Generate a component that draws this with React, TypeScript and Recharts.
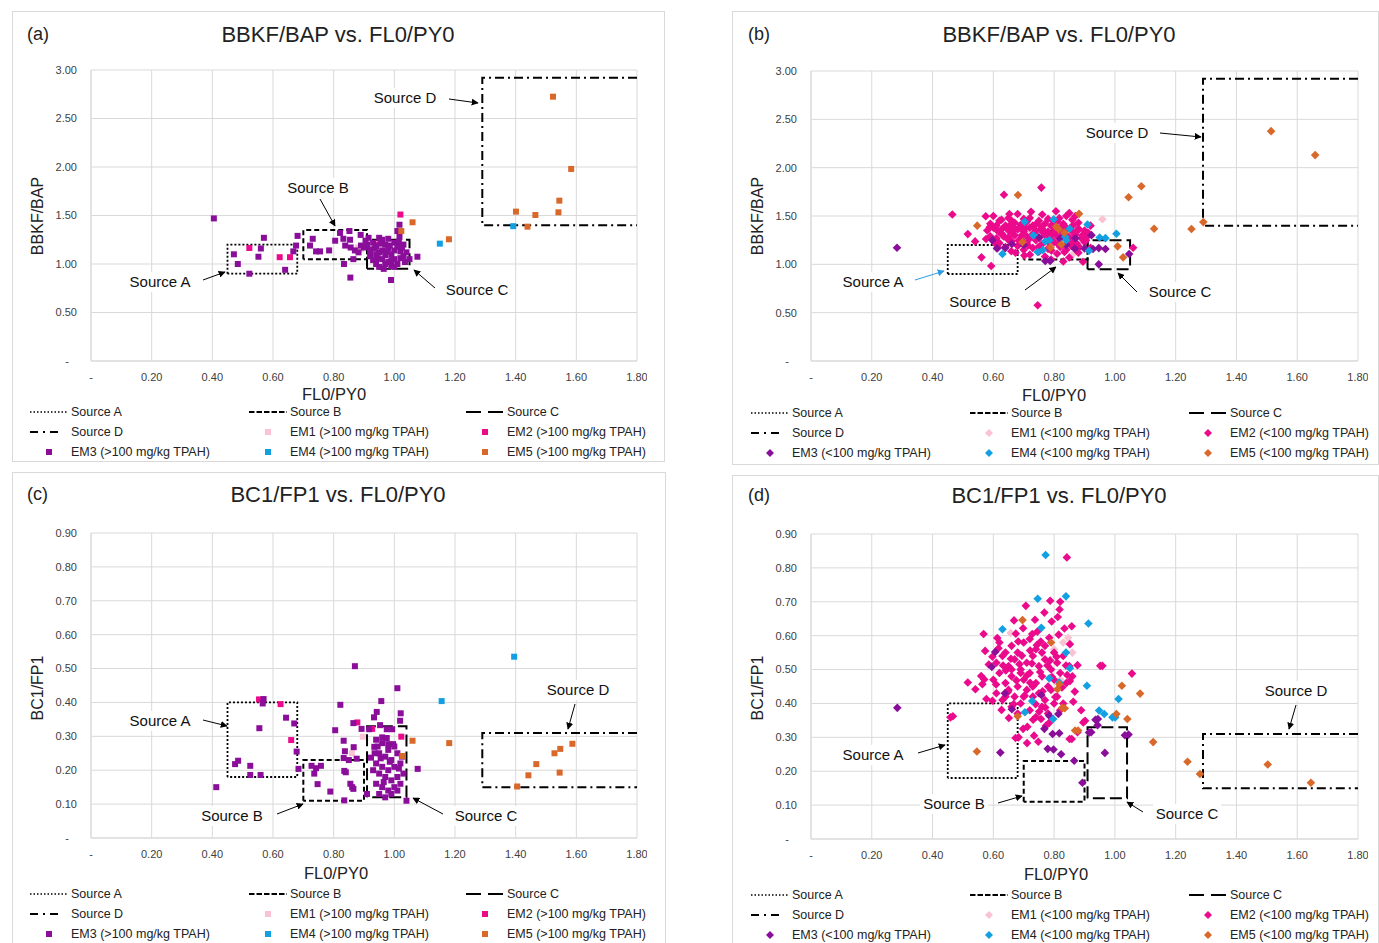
import React from "react";
import { ScatterChart, Scatter, XAxis, YAxis, CartesianGrid } from "recharts";

type Pt = [number, number];

const X_TICKS = [0, 0.2, 0.4, 0.6, 0.8, 1.0, 1.2, 1.4, 1.6, 1.8];
const Y_TICKS_BBKF = [0, 0.5, 1.0, 1.5, 2.0, 2.5, 3.0];
const Y_TICKS_BC1 = [0, 0.1, 0.2, 0.3, 0.4, 0.5, 0.6, 0.7, 0.8, 0.9];

const EM_NAMES = ["EM1", "EM2", "EM3", "EM4", "EM5"];
const EM_COLORS = ["#F9C3D3", "#EB0A8C", "#8A0E9A", "#12A0E2", "#D9692B"];

// source boxes (Excel draws them as line series)
const BOX_A_BBKF: Pt[] = [[0.45, 0.9], [0.45, 1.2], [0.68, 1.2], [0.68, 0.9], [0.45, 0.9]];
const BOX_B_BBKF: Pt[] = [[0.7, 1.05], [0.7, 1.35], [0.91, 1.35], [0.91, 1.05], [0.7, 1.05]];
const BOX_C_BBKF: Pt[] = [[0.91, 0.95], [0.91, 1.25], [1.05, 1.25], [1.05, 0.95], [0.91, 0.95]];
const BOX_D_BBKF: Pt[] = [[1.8, 2.92], [1.29, 2.92], [1.29, 1.4], [1.8, 1.4]];
const BOX_A_BC1: Pt[] = [[0.45, 0.18], [0.45, 0.4], [0.68, 0.4], [0.68, 0.18], [0.45, 0.18]];
const BOX_B_BC1: Pt[] = [[0.7, 0.11], [0.7, 0.23], [0.9, 0.23], [0.9, 0.11], [0.7, 0.11]];
const BOX_C_BC1: Pt[] = [[0.91, 0.12], [0.91, 0.33], [1.04, 0.33], [1.04, 0.12], [0.91, 0.12]];
const BOX_D_BC1: Pt[] = [[1.8, 0.31], [1.29, 0.31], [1.29, 0.15], [1.8, 0.15]];

// (a) BBKF/BAP vs FL0/PY0, >100 mg/kg
const A_EM1: Pt[] = [[0.88, 1.17], [0.89, 1.15]];
const A_EM2: Pt[] = [[0.522, 1.165], [0.622, 1.07], [0.656, 1.07], [1.02, 1.51], [0.94, 1.2]];
const A_EM3: Pt[] = [
  [0.405, 1.47], [0.57, 1.27], [0.56, 1.16], [0.471, 1.1], [0.552, 1.075], [0.484, 1.0], [0.522, 0.9],
  [0.64, 0.94], [0.667, 1.13], [0.676, 1.19], [0.681, 1.29], [0.731, 1.26], [0.722, 1.19], [0.742, 1.13],
  [0.755, 1.13], [0.785, 1.14], [0.805, 1.24], [0.821, 1.32], [0.852, 1.34], [0.889, 1.3], [0.832, 1.26],
  [0.854, 1.25], [0.838, 1.19], [0.856, 1.17], [0.87, 1.14], [0.882, 1.12], [0.865, 1.05], [0.834, 1.0],
  [0.855, 0.86], [0.989, 0.835], [1.076, 1.075], [1.017, 1.405], [1.01, 1.34], [1.017, 1.28],
  [0.91, 1.2], [0.92, 1.15], [0.93, 1.22], [0.94, 1.18], [0.95, 1.12], [0.96, 1.25], [0.97, 1.2],
  [0.98, 1.16], [0.99, 1.1], [1.0, 1.22], [1.01, 1.18], [1.02, 1.13], [1.03, 1.08], [0.92, 1.08],
  [0.93, 1.04], [0.94, 1.0], [0.95, 0.97], [0.96, 1.05], [0.97, 1.09], [0.98, 1.02], [0.99, 0.98],
  [1.0, 1.05], [1.01, 1.0], [1.02, 1.06], [1.04, 1.12], [1.03, 1.2], [0.95, 1.27], [0.98, 1.26],
  [1.0, 1.14], [0.96, 1.14], [0.94, 1.1], [0.92, 1.12], [0.9, 1.17], [0.89, 1.19], [0.97, 1.0],
  [0.99, 1.04], [1.0, 0.97], [0.985, 1.19], [0.955, 1.21], [0.935, 1.16], [1.015, 1.23], [1.025, 1.17],
  [1.035, 1.02], [1.05, 1.05], [0.965, 0.95], [0.945, 1.06], [0.975, 1.13], [0.905, 1.24], [0.915, 1.27],
];
const A_EM4: Pt[] = [[1.15, 1.21], [1.392, 1.39]];
const A_EM5: Pt[] = [
  [1.06, 1.43], [1.023, 1.34], [1.18, 1.255], [1.523, 2.725], [1.583, 1.98], [1.544, 1.653],
  [1.541, 1.533], [1.401, 1.54], [1.465, 1.505], [1.439, 1.385],
];

// (b) BBKF/BAP vs FL0/PY0, <100 mg/kg
const B_EM1: Pt[] = [[0.959, 1.467], [0.82, 1.3], [0.77, 1.2], [0.72, 1.35], [0.86, 1.1]];
const B_EM2: Pt[] = [
  [0.465, 1.515], [0.516, 1.313], [0.54, 1.237], [0.575, 1.498], [0.561, 1.072], [0.593, 0.983],
  [0.635, 1.72], [0.758, 1.794], [0.746, 0.577], [0.673, 1.12], [1.06, 1.172], [0.895, 1.027],
  [0.6, 1.5], [0.68, 1.52], [0.72, 1.48], [0.85, 1.53], [0.84, 1.5], [0.78, 1.47], [0.66, 1.45],
  [0.59, 1.42], [0.62, 1.45], [0.64, 1.4], [0.67, 1.43], [0.69, 1.41], [0.71, 1.44], [0.73, 1.4],
  [0.75, 1.45], [0.77, 1.42], [0.79, 1.4], [0.81, 1.44], [0.83, 1.42], [0.86, 1.46], [0.88, 1.43],
  [0.65, 1.48], [0.7, 1.47], [0.58, 1.35], [0.6, 1.38], [0.62, 1.33], [0.63, 1.37], [0.65, 1.35],
  [0.66, 1.39], [0.68, 1.36], [0.7, 1.34], [0.72, 1.38], [0.74, 1.35], [0.76, 1.37], [0.78, 1.34],
  [0.8, 1.38], [0.82, 1.35], [0.84, 1.38], [0.86, 1.34], [0.88, 1.37], [0.9, 1.35], [0.61, 1.4],
  [0.69, 1.39], [0.59, 1.29], [0.61, 1.27], [0.63, 1.31], [0.65, 1.28], [0.67, 1.3], [0.69, 1.26],
  [0.71, 1.29], [0.73, 1.31], [0.75, 1.27], [0.77, 1.3], [0.79, 1.26], [0.81, 1.29], [0.83, 1.32],
  [0.85, 1.28], [0.87, 1.3], [0.89, 1.27], [0.91, 1.29], [0.66, 1.33], [0.74, 1.25], [0.8, 1.32],
  [0.62, 1.22], [0.64, 1.18], [0.66, 1.24], [0.68, 1.19], [0.71, 1.22], [0.73, 1.17], [0.76, 1.21],
  [0.78, 1.16], [0.8, 1.23], [0.82, 1.18], [0.84, 1.15], [0.86, 1.22], [0.88, 1.19], [0.9, 1.23],
  [0.92, 1.17], [0.7, 1.15], [0.75, 1.13], [0.72, 1.1], [0.77, 1.08], [0.81, 1.11], [0.85, 1.07],
  [0.88, 1.12], [0.79, 1.05], [0.83, 1.03], [0.87, 1.5], [0.92, 1.4],
  [0.612, 1.352], [0.634, 1.288], [0.657, 1.412], [0.683, 1.247], [0.706, 1.376], [0.718, 1.262],
  [0.741, 1.418], [0.763, 1.331], [0.786, 1.287], [0.797, 1.452], [0.812, 1.214], [0.826, 1.396],
  [0.849, 1.243], [0.862, 1.404], [0.874, 1.218], [0.893, 1.301], [0.604, 1.223], [0.627, 1.461],
  [0.648, 1.257], [0.671, 1.372], [0.693, 1.298], [0.714, 1.196], [0.736, 1.327], [0.758, 1.388],
  [0.781, 1.236], [0.803, 1.341], [0.817, 1.478], [0.838, 1.311], [0.857, 1.189], [0.879, 1.352],
  [0.615, 1.173], [0.659, 1.136], [0.702, 1.092], [0.747, 1.176], [0.791, 1.142], [0.834, 1.128],
  [0.878, 1.162], [0.576, 1.262], [0.588, 1.384], [0.905, 1.248], [0.912, 1.326], [0.653, 1.521],
  [0.761, 1.516], [0.806, 1.549], [0.724, 1.543],
];
const B_EM3: Pt[] = [
  [0.283, 1.172], [0.597, 1.25], [0.612, 1.165], [0.639, 1.168], [0.661, 1.21], [0.923, 1.302],
  [0.947, 1.168], [0.969, 1.158], [0.928, 1.158], [0.947, 1.0], [1.047, 1.107], [0.771, 1.034],
  [0.787, 1.034], [0.868, 1.162], [0.9, 1.165], [0.82, 1.268], [0.7, 1.2], [0.75, 1.28], [0.84, 1.2],
  [0.87, 1.27],
];
const B_EM4: Pt[] = [
  [0.63, 1.107], [0.703, 1.44], [0.799, 1.467], [0.91, 1.412], [0.95, 1.278], [0.969, 1.271],
  [1.005, 1.316], [0.915, 1.141], [0.746, 1.127], [0.763, 1.148], [0.771, 1.237], [0.785, 1.25],
  [0.84, 1.25], [0.851, 1.368], [0.837, 1.285], [0.732, 1.3],
];
const B_EM5: Pt[] = [
  [0.547, 1.4], [0.681, 1.718], [0.882, 1.522], [1.009, 1.186], [1.027, 1.072], [1.045, 1.694],
  [1.087, 1.808], [1.129, 1.368], [0.696, 1.23], [0.788, 1.175], [0.824, 1.206], [0.834, 1.326],
  [0.807, 1.388], [0.815, 1.364], [1.252, 1.365], [1.291, 1.437], [1.514, 2.378], [1.659, 2.13],
];

// (c) BC1/FP1 vs FL0/PY0, >100 mg/kg
const C_EM1: Pt[] = [[0.896, 0.299], [0.86, 0.25]];
const C_EM2: Pt[] = [[0.554, 0.409], [0.625, 0.395], [0.66, 0.289], [0.878, 0.341], [0.927, 0.322], [1.023, 0.299]];
const C_EM3: Pt[] = [
  [0.87, 0.507], [1.01, 0.442], [0.957, 0.404], [0.822, 0.393], [0.942, 0.372], [0.933, 0.356],
  [1.021, 0.368], [1.019, 0.346], [0.865, 0.339], [0.953, 0.333], [0.892, 0.322], [0.917, 0.321],
  [0.975, 0.321], [0.993, 0.321], [0.805, 0.318], [0.96, 0.297], [0.833, 0.287], [0.934, 0.269],
  [0.866, 0.268], [0.98, 0.277], [0.996, 0.277], [0.837, 0.256], [0.833, 0.236], [0.85, 0.23],
  [0.876, 0.234], [0.923, 0.237], [1.077, 0.204], [1.04, 0.11], [0.835, 0.198], [0.84, 0.194],
  [0.855, 0.16], [0.865, 0.145], [0.861, 0.15], [0.835, 0.111], [0.91, 0.13], [0.789, 0.137],
  [0.747, 0.159], [0.727, 0.213], [0.742, 0.206], [0.758, 0.213], [0.736, 0.19], [0.569, 0.41],
  [0.566, 0.397], [0.643, 0.355], [0.67, 0.338], [0.555, 0.324], [0.678, 0.255], [0.485, 0.228],
  [0.475, 0.218], [0.525, 0.213], [0.684, 0.204], [0.525, 0.186], [0.559, 0.186], [0.413, 0.15],
  [0.94, 0.29], [0.96, 0.28], [0.98, 0.26], [1.0, 0.27], [0.95, 0.25], [0.97, 0.24], [0.99, 0.23],
  [1.01, 0.25], [0.94, 0.22], [0.96, 0.21], [0.98, 0.2], [1.0, 0.21], [1.02, 0.22], [0.95, 0.19],
  [0.97, 0.18], [0.99, 0.17], [1.01, 0.18], [1.03, 0.19], [0.94, 0.16], [0.96, 0.15], [0.98, 0.14],
  [1.0, 0.15], [1.02, 0.16], [0.95, 0.13], [0.97, 0.12], [0.99, 0.13], [1.01, 0.14], [0.93, 0.2],
  [0.955, 0.235], [0.985, 0.225], [1.015, 0.205], [0.965, 0.165], [0.945, 0.27], [0.975, 0.295],
  [1.025, 0.24], [0.935, 0.25],
];
const C_EM4: Pt[] = [[1.156, 0.404], [1.395, 0.535]];
const C_EM5: Pt[] = [
  [1.026, 0.242], [1.06, 0.287], [1.181, 0.28], [1.587, 0.278], [1.547, 0.263], [1.528, 0.25],
  [1.468, 0.218], [1.442, 0.185], [1.545, 0.193], [1.405, 0.152],
];

// (d) BC1/FP1 vs FL0/PY0, <100 mg/kg
const D_EM1: Pt[] = [[0.657, 0.608], [0.846, 0.594], [0.83, 0.58], [0.86, 0.55], [0.82, 0.47], [0.8, 0.56]];
const D_EM2: Pt[] = [
  [0.842, 0.831], [0.82, 0.7], [0.818, 0.677], [0.834, 0.621], [0.858, 0.628], [0.568, 0.605],
  [0.674, 0.606], [0.728, 0.605], [0.784, 0.594], [0.516, 0.462], [0.541, 0.442], [0.564, 0.457],
  [0.57, 0.471], [0.56, 0.481], [0.577, 0.413], [0.597, 0.408], [0.467, 0.362], [0.698, 0.325],
  [0.683, 0.3], [0.751, 0.376], [0.757, 0.354], [0.773, 0.334], [0.858, 0.295], [0.877, 0.315],
  [0.896, 0.344], [0.902, 0.349], [0.877, 0.513], [0.959, 0.511], [1.056, 0.488], [0.843, 0.484],
  [0.852, 0.466], [0.459, 0.359], [0.673, 0.298], [0.851, 0.295], [0.952, 0.511],
  [0.62, 0.58], [0.66, 0.57], [0.7, 0.58], [0.74, 0.56], [0.77, 0.57], [0.8, 0.55], [0.64, 0.55],
  [0.72, 0.59], [0.68, 0.55], [0.61, 0.52], [0.63, 0.54], [0.65, 0.51], [0.67, 0.53], [0.69, 0.5],
  [0.71, 0.52], [0.73, 0.54], [0.75, 0.51], [0.77, 0.53], [0.79, 0.5], [0.81, 0.52], [0.83, 0.54],
  [0.85, 0.51], [0.66, 0.5], [0.76, 0.55], [0.6, 0.47], [0.62, 0.49], [0.64, 0.46], [0.66, 0.48],
  [0.68, 0.45], [0.7, 0.47], [0.72, 0.49], [0.74, 0.46], [0.76, 0.48], [0.78, 0.45], [0.8, 0.47],
  [0.82, 0.49], [0.84, 0.46], [0.86, 0.48], [0.69, 0.49], [0.73, 0.45], [0.61, 0.43], [0.63, 0.41],
  [0.65, 0.44], [0.67, 0.42], [0.69, 0.4], [0.71, 0.44], [0.73, 0.42], [0.75, 0.43], [0.77, 0.41],
  [0.79, 0.44], [0.81, 0.42], [0.83, 0.4], [0.7, 0.42], [0.64, 0.42], [0.66, 0.39], [0.72, 0.38],
  [0.74, 0.36], [0.76, 0.39], [0.78, 0.37], [0.8, 0.4], [0.82, 0.38], [0.68, 0.37],
  [0.617, 0.563], [0.641, 0.497], [0.658, 0.532], [0.676, 0.468], [0.694, 0.541], [0.711, 0.483],
  [0.727, 0.518], [0.743, 0.572], [0.762, 0.436], [0.778, 0.512], [0.793, 0.478], [0.808, 0.538],
  [0.826, 0.447], [0.839, 0.512], [0.648, 0.434], [0.667, 0.398], [0.686, 0.516], [0.703, 0.423],
  [0.721, 0.461], [0.739, 0.398], [0.754, 0.493], [0.771, 0.388], [0.787, 0.527], [0.804, 0.419],
  [0.632, 0.512], [0.609, 0.456], [0.597, 0.538], [0.721, 0.556], [0.756, 0.583], [0.682, 0.583],
  [0.613, 0.593], [0.745, 0.612], [0.698, 0.622], [0.815, 0.603], [0.792, 0.642], [0.737, 0.647],
  [0.768, 0.668], [0.707, 0.688], [0.787, 0.703], [0.812, 0.655], [0.668, 0.645], [0.585, 0.515],
  [0.573, 0.555], [0.852, 0.575], [0.868, 0.435], [0.863, 0.405], [0.889, 0.38], [0.651, 0.357],
  [0.627, 0.381], [0.712, 0.331], [0.731, 0.352], [0.783, 0.342], [0.711, 0.283], [0.748, 0.287],
  [0.734, 0.305],
];
const D_EM3: Pt[] = [
  [0.284, 0.387], [0.623, 0.255], [0.606, 0.552], [0.595, 0.508], [0.638, 0.43], [0.661, 0.383],
  [0.758, 0.425], [0.768, 0.325], [0.795, 0.31], [0.817, 0.312], [0.779, 0.266], [0.798, 0.264],
  [0.823, 0.25], [0.866, 0.231], [0.967, 0.254], [0.784, 0.364], [0.814, 0.369], [0.922, 0.315],
  [0.944, 0.354], [0.943, 0.336], [1.045, 0.308], [1.033, 0.306], [0.915, 0.314], [0.936, 0.352],
  [0.893, 0.166],
];
const D_EM4: Pt[] = [
  [0.772, 0.838], [0.746, 0.709], [0.839, 0.716], [0.63, 0.619], [0.758, 0.623], [0.913, 0.636],
  [0.704, 0.374], [0.728, 0.407], [0.797, 0.354], [0.948, 0.379], [0.965, 0.369], [0.908, 0.452],
  [0.852, 0.504], [0.839, 0.55], [1.012, 0.413], [1.001, 0.359], [0.784, 0.474], [0.817, 0.462],
  [0.992, 0.359],
];
const D_EM5: Pt[] = [
  [0.696, 0.646], [0.546, 0.258], [0.68, 0.362], [0.835, 0.386], [0.879, 0.32], [1.023, 0.452],
  [1.083, 0.429], [1.005, 0.369], [1.041, 0.354], [1.126, 0.286], [0.817, 0.457], [0.811, 0.442],
  [1.239, 0.228], [1.28, 0.192], [1.503, 0.22], [1.645, 0.166], [0.869, 0.32], [0.827, 0.387],
  [0.79, 0.58],
];

const FONT = "'Liberation Sans', Arial, sans-serif";
const GRID = "#D9D9D9";

const BOX_STYLES = [
  { dash: "2 2", width: 1.8 },
  { dash: "5 3", width: 2 },
  { dash: "12 5", width: 2 },
  { dash: "9 4 2 4", width: 2 },
];

const toObj = (pts: Pt[]) => pts.map(([x, y]) => ({ x, y }));
const fmt = (v: number) => (v === 0 ? "-" : v.toFixed(2));

function YTick(props: any) {
  const { x, y, payload } = props;
  const v = payload.value as number;
  return (
    <text x={v === 0 ? x - 8 : x} y={y} dy="0.35em" textAnchor="end" fontSize={11} fill="#404040" fontFamily={FONT}>
      {fmt(v)}
    </text>
  );
}

function marker(kind: string, color: string) {
  // eslint-disable-next-line @typescript-eslint/no-explicit-any
  return (p: any) => {
    if (p.cx == null || p.cy == null) return <g />;
    if (kind === "square") {
      return <rect x={p.cx - 3} y={p.cy - 3} width={6} height={6} fill={color} />;
    }
    const r = 4.3;
    return (
      <polygon
        points={`${p.cx},${p.cy - r} ${p.cx + r},${p.cy} ${p.cx},${p.cy + r} ${p.cx - r},${p.cy}`}
        fill={color}
      />
    );
  };
}

interface Note {
  text: string;
  cx: number;
  cy: number;
  from: Pt;
  to: Pt;
  color?: string;
}

interface PanelCfg {
  tag: string;
  title: string;
  yLabel: string;
  tpah: string;
  shape: string;
  frame: { left: number; top: number; width: number; height: number };
  chart: { left: number; top: number; width: number; height: number };
  yTicks: number[];
  yMax: number;
  series: Pt[][];
  boxes: Pt[][];
  tagPos: Pt;
  titleX: number;
  titleY: number;
  yLabelPos: Pt;
  xLabelPos: Pt;
  legendCols: number[];
  legendRows: number[];
  notes: Note[];
}

const PANELS: PanelCfg[] = [
  {
    tag: "(a)", title: "BBKF/BAP vs. FL0/PY0", yLabel: "BBKF/BAP", tpah: ">100", shape: "square",
    frame: { left: 12, top: 11, width: 653, height: 451 },
    chart: { left: 20, top: 60, width: 627, height: 336 },
    yTicks: Y_TICKS_BBKF, yMax: 3,
    series: [A_EM1, A_EM2, A_EM3, A_EM4, A_EM5],
    boxes: [BOX_A_BBKF, BOX_B_BBKF, BOX_C_BBKF, BOX_D_BBKF],
    tagPos: [27, 34], titleX: 338, titleY: 35, yLabelPos: [38, 216], xLabelPos: [334, 394],
    legendCols: [30, 249, 466], legendRows: [412, 432, 452],
    notes: [
      { text: "Source A", cx: 160, cy: 282, from: [203, 280], to: [225, 272] },
      { text: "Source B", cx: 318, cy: 188, from: [320, 199], to: [335, 226] },
      { text: "Source C", cx: 477, cy: 290, from: [435, 288], to: [414, 270] },
      { text: "Source D", cx: 405, cy: 98, from: [449, 99], to: [478, 103] },
    ],
  },
  {
    tag: "(b)", title: "BBKF/BAP vs. FL0/PY0", yLabel: "BBKF/BAP", tpah: "<100", shape: "diamond",
    frame: { left: 732, top: 11, width: 647, height: 454 },
    chart: { left: 740, top: 61, width: 628, height: 335 },
    yTicks: Y_TICKS_BBKF, yMax: 3,
    series: [B_EM1, B_EM2, B_EM3, B_EM4, B_EM5],
    boxes: [BOX_A_BBKF, BOX_B_BBKF, BOX_C_BBKF, BOX_D_BBKF],
    tagPos: [748, 34], titleX: 1059, titleY: 35, yLabelPos: [758, 216], xLabelPos: [1054, 395],
    legendCols: [751, 970, 1189], legendRows: [413, 433, 453],
    notes: [
      { text: "Source A", cx: 873, cy: 282, from: [915, 280], to: [944, 271], color: "#2E9BE0" },
      { text: "Source B", cx: 980, cy: 302, from: [1025, 290], to: [1056, 267] },
      { text: "Source C", cx: 1180, cy: 292, from: [1137, 292], to: [1118, 273] },
      { text: "Source D", cx: 1117, cy: 133, from: [1160, 133], to: [1201, 137] },
    ],
  },
  {
    tag: "(c)", title: "BC1/FP1 vs. FL0/PY0", yLabel: "BC1/FP1", tpah: ">100", shape: "square",
    frame: { left: 12, top: 472, width: 654, height: 480 },
    chart: { left: 20, top: 523, width: 627, height: 350 },
    yTicks: Y_TICKS_BC1, yMax: 0.9,
    series: [C_EM1, C_EM2, C_EM3, C_EM4, C_EM5],
    boxes: [BOX_A_BC1, BOX_B_BC1, BOX_C_BC1, BOX_D_BC1],
    tagPos: [27, 494], titleX: 338, titleY: 495, yLabelPos: [38, 688], xLabelPos: [336, 873],
    legendCols: [30, 249, 466], legendRows: [894, 914, 934],
    notes: [
      { text: "Source A", cx: 160, cy: 721, from: [203, 720], to: [227, 726] },
      { text: "Source B", cx: 232, cy: 816, from: [277, 814], to: [303, 804] },
      { text: "Source C", cx: 486, cy: 816, from: [443, 814], to: [413, 798] },
      { text: "Source D", cx: 578, cy: 690, from: [575, 704], to: [568, 729] },
    ],
  },
  {
    tag: "(d)", title: "BC1/FP1 vs. FL0/PY0", yLabel: "BC1/FP1", tpah: "<100", shape: "diamond",
    frame: { left: 732, top: 475, width: 647, height: 480 },
    chart: { left: 740, top: 524, width: 628, height: 350 },
    yTicks: Y_TICKS_BC1, yMax: 0.9,
    series: [D_EM1, D_EM2, D_EM3, D_EM4, D_EM5],
    boxes: [BOX_A_BC1, BOX_B_BC1, BOX_C_BC1, BOX_D_BC1],
    tagPos: [748, 495], titleX: 1059, titleY: 496, yLabelPos: [758, 688], xLabelPos: [1056, 874],
    legendCols: [751, 970, 1189], legendRows: [895, 915, 935],
    notes: [
      { text: "Source A", cx: 873, cy: 755, from: [918, 753], to: [945, 745] },
      { text: "Source B", cx: 954, cy: 804, from: [998, 803], to: [1022, 796] },
      { text: "Source C", cx: 1187, cy: 814, from: [1143, 812], to: [1127, 802] },
      { text: "Source D", cx: 1296, cy: 691, from: [1296, 705], to: [1289, 729] },
    ],
  },
];

const abs = (left: number, top: number): React.CSSProperties => ({ position: "absolute", left, top });

function LegendSample({ kind, color, shape }: { kind: string; color?: string; shape: string }) {
  if (kind === "box") {
    const idx = Number(color);
    const s = BOX_STYLES[idx];
    const widths = [37, 38, 37, 33];
    const dash = ["1.5 2", "5.5 2", "15 7", "8 5 2 5"][idx];
    return (
      <svg width={40} height={8} style={{ display: "block" }}>
        <line x1={0} y1={4} x2={widths[idx]} y2={4} stroke="#000" strokeWidth={idx === 0 ? 1.5 : s.width} strokeDasharray={dash} />
      </svg>
    );
  }
  return (
    <svg width={40} height={10} style={{ display: "block" }}>
      {shape === "square" ? (
        <rect x={16} y={2} width={6} height={6} fill={color} />
      ) : (
        <polygon points="19,1 23,5 19,9 15,5" fill={color} />
      )}
    </svg>
  );
}

function Panel({ cfg }: { cfg: PanelCfg }) {
  const { chart } = cfg;
  const legendItems: { label: string; kind: string; color: string }[] = [
    { label: "Source A", kind: "box", color: "0" },
    { label: "Source B", kind: "box", color: "1" },
    { label: "Source C", kind: "box", color: "2" },
    { label: "Source D", kind: "box", color: "3" },
    ...EM_NAMES.map((n, i) => ({ label: `${n} (${cfg.tpah} mg/kg TPAH)`, kind: "em", color: EM_COLORS[i] })),
  ];
  return (
    <>
      <div
        style={{
          ...abs(cfg.frame.left, cfg.frame.top),
          width: cfg.frame.width,
          height: cfg.frame.height,
          border: `1px solid ${GRID}`,
          boxSizing: "border-box",
          background: "#fff",
        }}
      />
      <div style={{ ...abs(cfg.tagPos[0], cfg.tagPos[1] - 11), fontSize: 18, lineHeight: "22px", color: "#222" }}>{cfg.tag}</div>
      <div
        style={{
          ...abs(cfg.titleX - 200, cfg.titleY - 13),
          width: 400,
          textAlign: "center",
          fontSize: 22,
          lineHeight: "26px",
          color: "#222",
        }}
      >
        {cfg.title}
      </div>
      <div
        style={{
          ...abs(cfg.yLabelPos[0] - 60, cfg.yLabelPos[1] - 10),
          width: 120,
          textAlign: "center",
          fontSize: 16,
          lineHeight: "20px",
          color: "#222",
          transform: "rotate(-90deg)",
        }}
      >
        {cfg.yLabel}
      </div>
      <div
        style={{
          ...abs(cfg.xLabelPos[0] - 60, cfg.xLabelPos[1] - 10),
          width: 120,
          textAlign: "center",
          fontSize: 16.5,
          lineHeight: "20px",
          color: "#222",
        }}
      >
        FL0/PY0
      </div>
      <div style={abs(chart.left, chart.top)}>
        <ScatterChart width={chart.width} height={chart.height} margin={{ top: 10, right: 10, left: 21, bottom: 5 }}>
          <CartesianGrid stroke={GRID} strokeWidth={1} />
          <XAxis
            type="number"
            dataKey="x"
            domain={[0, 1.8]}
            ticks={X_TICKS}
            tickFormatter={fmt}
            height={30}
            axisLine={{ stroke: GRID }}
            tickLine={false}
            tickMargin={6}
            tick={{ fontSize: 11, fill: "#404040", fontFamily: FONT }}
            allowDataOverflow
          />
          <YAxis
            type="number"
            dataKey="y"
            domain={[0, cfg.yMax]}
            ticks={cfg.yTicks}
            width={50}
            axisLine={{ stroke: GRID }}
            tickLine={false}
            tickMargin={8}
            tick={<YTick />}
            allowDataOverflow
          />
          {cfg.boxes.map((b, i) => (
            <Scatter
              key={`box${i}`}
              name={`Source ${"ABCD"[i]}`}
              data={toObj(b)}
              line={{ stroke: "#000", strokeWidth: BOX_STYLES[i].width, strokeDasharray: BOX_STYLES[i].dash, fill: "none" }}
              lineType="joint"
              shape={() => <g />}
              isAnimationActive={false}
            />
          ))}
          {cfg.series.map((s, i) => (
            <Scatter
              key={EM_NAMES[i]}
              name={EM_NAMES[i]}
              data={toObj(s)}
              fill={EM_COLORS[i]}
              shape={marker(cfg.shape, EM_COLORS[i])}
              isAnimationActive={false}
            />
          ))}
        </ScatterChart>
      </div>
      {legendItems.map((it, i) => {
        const col = i % 3;
        const row = Math.floor(i / 3);
        const x = cfg.legendCols[col];
        const y = cfg.legendRows[row];
        return (
          <div key={it.label} style={{ ...abs(x, y - 8), display: "flex", alignItems: "center", height: 16 }}>
            <LegendSample kind={it.kind} color={it.color} shape={cfg.shape} />
            <span style={{ fontSize: 12.5, color: "#222", marginLeft: 1, whiteSpace: "nowrap" }}>{it.label}</span>
          </div>
        );
      })}
    </>
  );
}

function Notes() {
  const all = PANELS.flatMap((p) => p.notes);
  return (
    <svg width={1379} height={943} style={{ position: "absolute", left: 0, top: 0, pointerEvents: "none" }}>
      <defs>
        <marker id="ah" viewBox="0 0 10 10" refX={9} refY={5} markerWidth={7} markerHeight={7} orient="auto">
          <path d="M0,0 L10,5 L0,10 z" fill="#000" />
        </marker>
        <marker id="ahb" viewBox="0 0 10 10" refX={9} refY={5} markerWidth={7} markerHeight={7} orient="auto">
          <path d="M0,0 L10,5 L0,10 z" fill="#2E9BE0" />
        </marker>
      </defs>
      {all.map((n, i) => (
        <g key={i}>
          <rect x={n.cx - 34} y={n.cy - 10} width={68} height={20} fill="#fff" />
          <text x={n.cx} y={n.cy} dy="0.35em" textAnchor="middle" fontSize={15} fill="#111" fontFamily={FONT}>
            {n.text}
          </text>
          <line
            x1={n.from[0]}
            y1={n.from[1]}
            x2={n.to[0]}
            y2={n.to[1]}
            stroke={n.color ?? "#000"}
            strokeWidth={1}
            markerEnd={n.color ? "url(#ahb)" : "url(#ah)"}
          />
        </g>
      ))}
    </svg>
  );
}

export default function App() {
  return (
    <div
      style={{
        position: "absolute",
        left: 0,
        top: 0,
        width: 1379,
        height: 943,
        overflow: "hidden",
        background: "#fff",
        fontFamily: FONT,
      }}
    >
      {PANELS.map((p) => (
        <Panel key={p.tag} cfg={p} />
      ))}
      <Notes />
    </div>
  );
}
